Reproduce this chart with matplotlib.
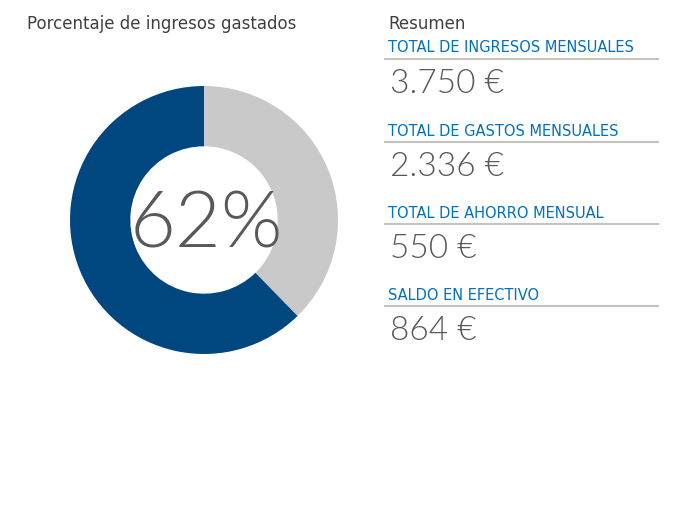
import matplotlib
matplotlib.use("Agg")
import matplotlib.pyplot as plt

# summary data
labels = ["TOTAL DE INGRESOS MENSUALES", "TOTAL DE GASTOS MENSUALES",
          "TOTAL DE AHORRO MENSUAL", "SALDO EN EFECTIVO"]
amounts = [3750, 2336, 550, 864]
value_texts = ["3.750 €", "2.336 €", "550 €", "864 €"]

ingresos = amounts[0]
gastos = amounts[1]
donut_values = [ingresos - gastos, gastos]   # remaining (grey), spent (blue)
donut_colors = ["#C9C9C9", "#00477F"]
pct_label = "62%"

W, H = 675, 520
fig = plt.figure(figsize=(W / 100, H / 100), dpi=100)
fig.patch.set_facecolor("white")

def fx(px):
    return px / W

def fy(py):
    return 1 - py / H

# donut
cx, cy, r = 204, 220, 134
ax = fig.add_axes([fx(cx - r), fy(cy + r), 2 * r / W, 2 * r / H])
ax.pie(donut_values, colors=donut_colors, startangle=90, counterclock=False,
       radius=1, wedgeprops=dict(width=0.45, linewidth=0))
ax.set_xlim(-1, 1)
ax.set_ylim(-1, 1)
ax.set_aspect("equal")
ax.axis("off")
ax.text(0.02, -0.045, pct_label, ha="center", va="center", fontsize=57,
        color="#595959", family="Lato", fontweight=300)

# titles
fig.text(fx(27), fy(24), "Porcentaje de ingresos gastados", ha="left", va="center",
         fontsize=12, color="#404040", family="DejaVu Sans")
fig.text(fx(388), fy(24), "Resumen", ha="left", va="center",
         fontsize=12, color="#404040", family="DejaVu Sans")

# summary blocks
label_y = [48, 131, 213, 295]
step_line = 11
step_val = 36
for lab, val, ly in zip(labels, value_texts, label_y):
    fig.text(fx(388), fy(ly), lab, ha="left", va="center", fontsize=10.5,
             color="#0070C0", family="DejaVu Sans")
    fig.add_artist(plt.Line2D([fx(385), fx(658)], [fy(ly + step_line)] * 2,
                              color="#C4C4BC", linewidth=1.5))
    fig.text(fx(390), fy(ly + step_val), val, ha="left", va="center", fontsize=24,
             color="#595959", family="Lato", fontweight=300)

fig.savefig("out.png", dpi=100, facecolor="white")
